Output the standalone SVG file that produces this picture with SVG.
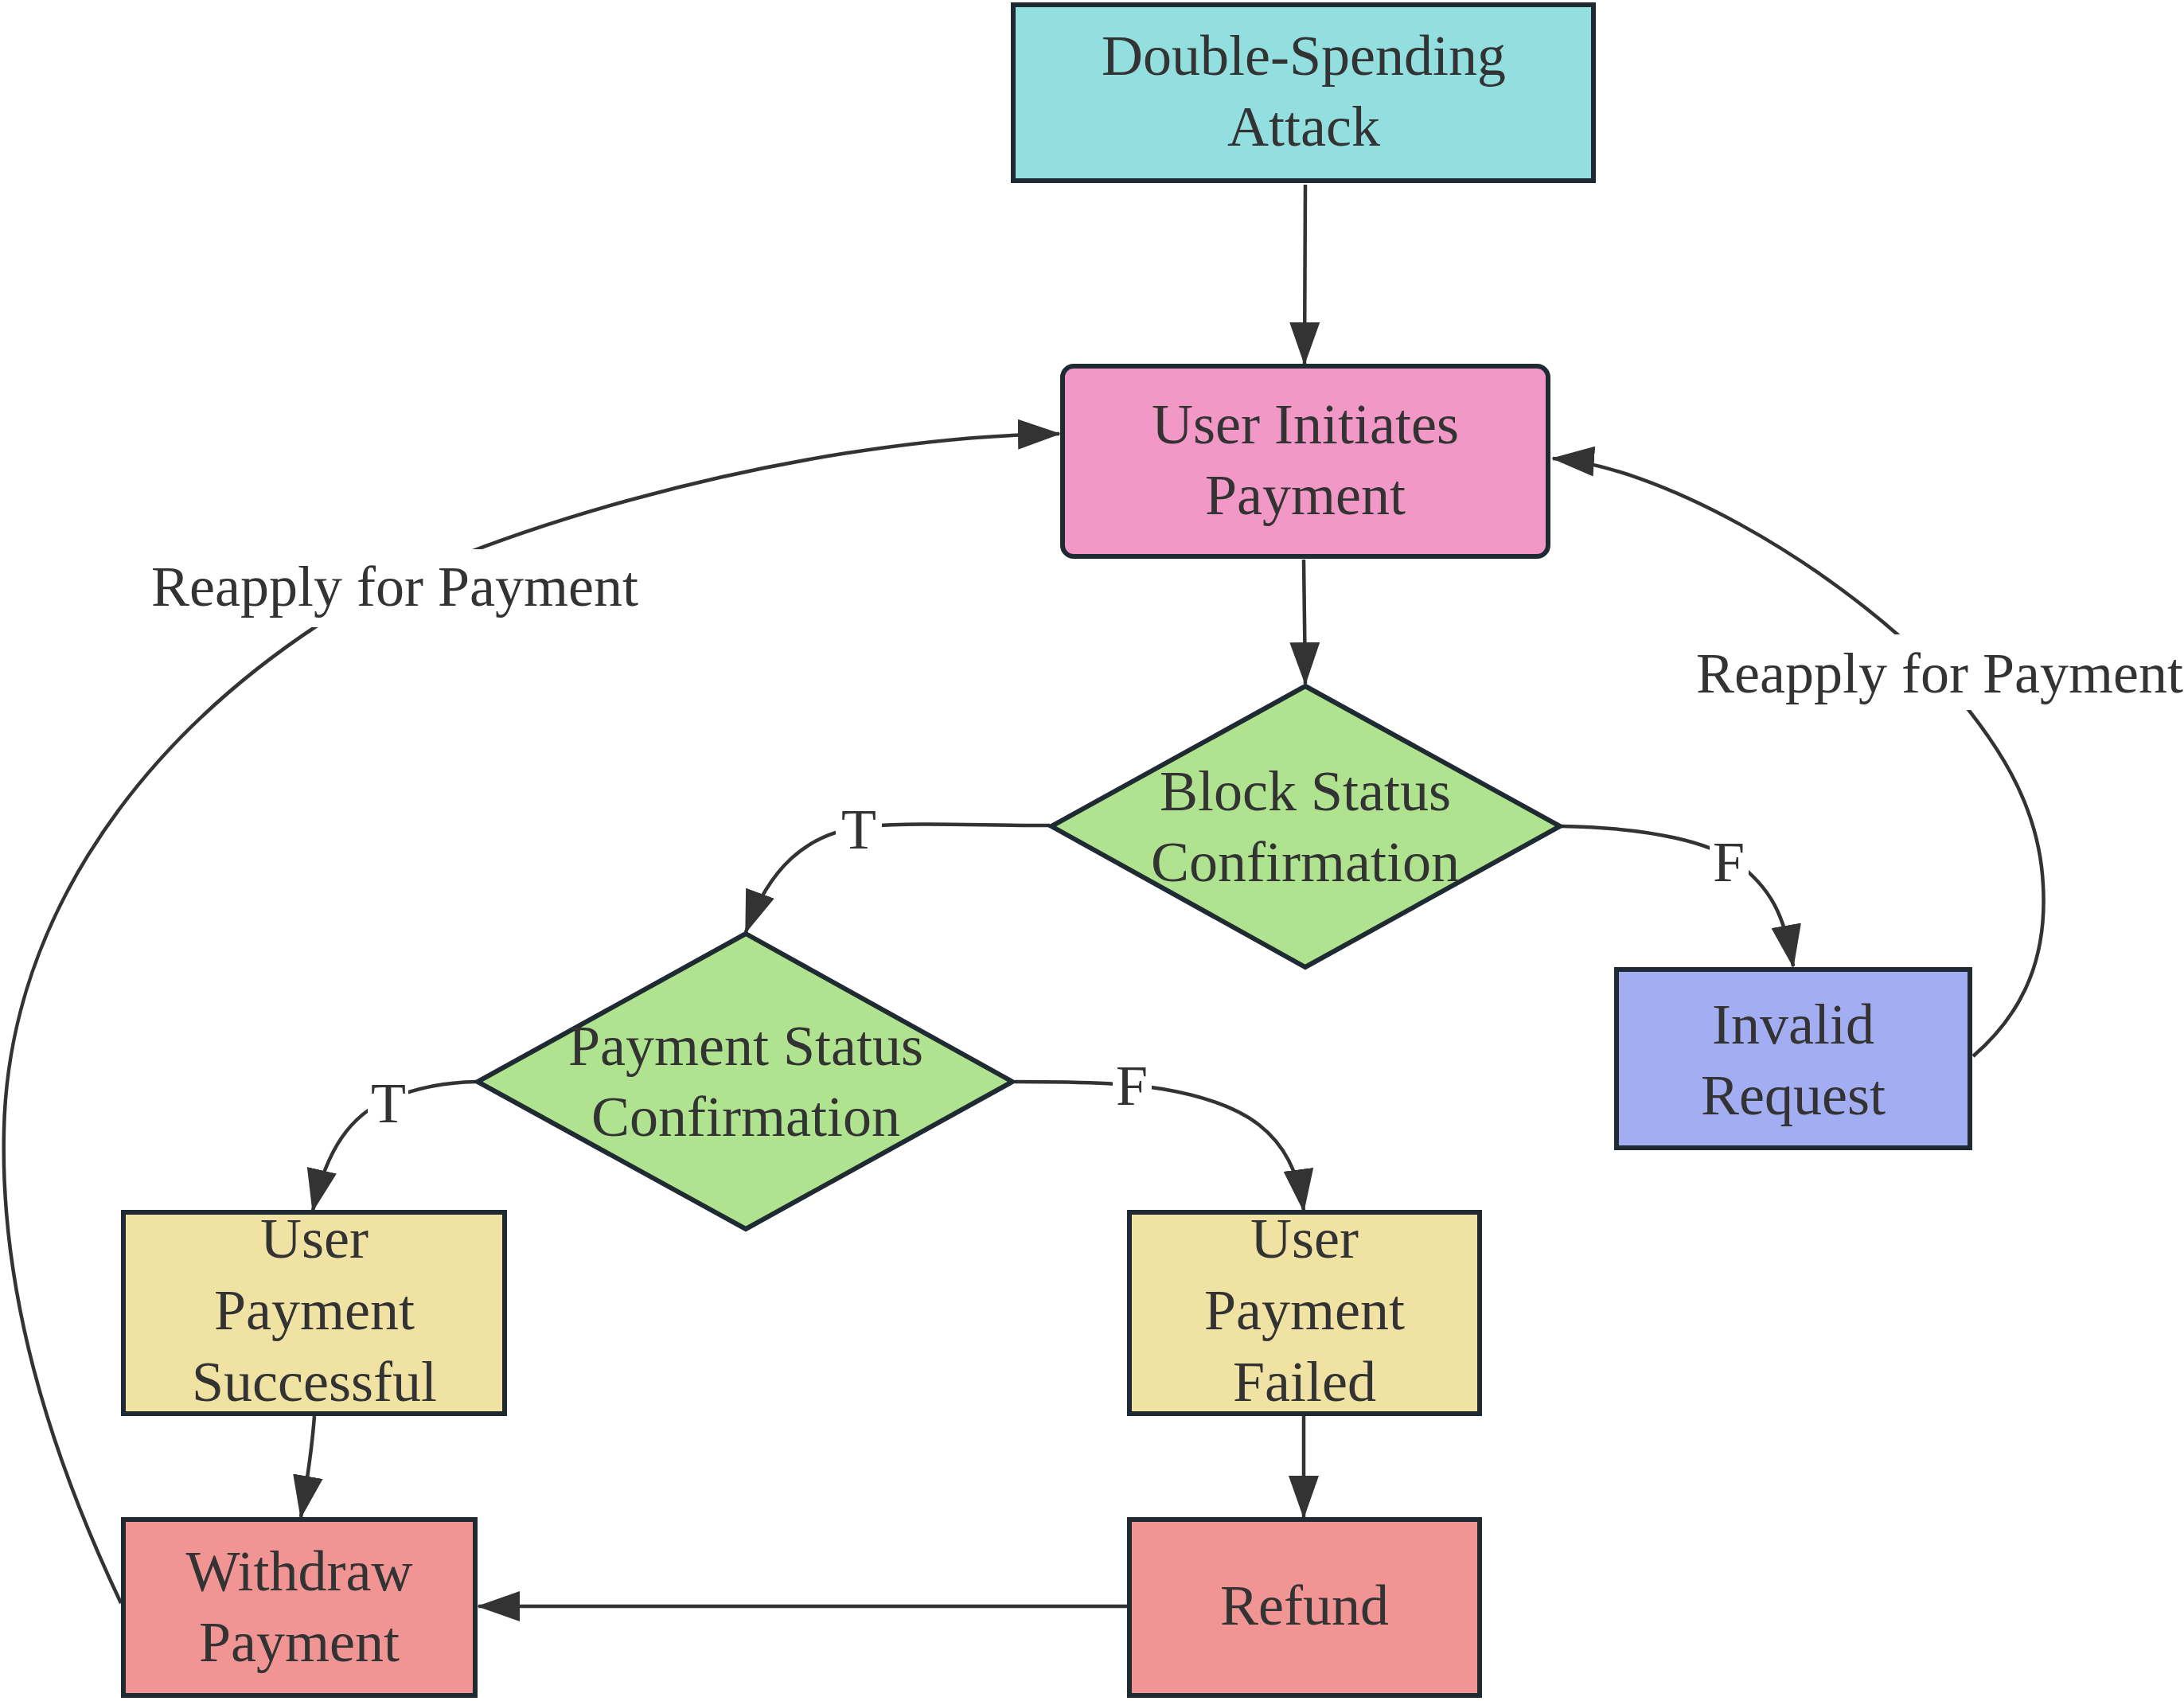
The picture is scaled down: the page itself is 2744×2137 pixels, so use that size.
<svg xmlns="http://www.w3.org/2000/svg" width="2744" height="2137" viewBox="0 0 2744 2137">
<style>
.node rect, .node polygon { stroke: #1f2a33; stroke-width: 6; }
.lbl { font-family: "Liberation Serif", "Times New Roman", serif; font-size: 72px; fill: #333333; text-anchor: middle; }
.edge { fill: none; stroke: #333333; stroke-width: 4.5; marker-end: url(#arrow); }
.lblbg { fill: #ffffff; stroke: none; }
</style>
<defs>
<marker id="arrow" markerUnits="userSpaceOnUse" viewBox="0 0 54 38" markerWidth="54" markerHeight="38" refX="52" refY="19" orient="auto">
<path d="M0,0 L54,19 L0,38 z" fill="#333333"/>
</marker>
</defs>
<rect width="2744" height="2137" fill="#ffffff"/>

<g id="connectors">
<path class="edge" d="M1640,232 L1639,457"/>
<path class="edge" d="M1638,703 L1640,859"/>
<path class="edge" d="M1319,1037 C1230,1037 1150,1033 1090,1038 C1010,1045 965,1095 937,1171"/>
<path class="edge" d="M1962,1038 C2080,1040 2150,1060 2180,1082 C2225,1115 2242,1150 2253,1214"/>
<path class="edge" d="M598,1359 C560,1360 530,1365 490,1380 C440,1400 410,1445 393,1521"/>
<path class="edge" d="M1275,1359 C1380,1359 1420,1362 1460,1368 C1560,1385 1625,1420 1638,1521"/>
<path class="edge" d="M395,1779 C392,1820 386,1860 378,1906"/>
<path class="edge" d="M1638,1779 L1638,1906"/>
<path class="edge" d="M1416,2018 L601,2018"/>
<path class="edge" d="M2479,1327 C2545,1270 2572,1200 2567,1112 C2562,1010 2510,930 2430,840 C2290,700 2080,585 1951,576"/>
<path class="edge" d="M152,2014 C60,1820 0,1620 5,1420 C10,1180 150,950 400,785 C560,680 980,550 1331,545"/>

<rect class="lblbg" x="190" y="690" width="613" height="98"/>
<text class="lbl" x="496" y="761">Reapply for Payment</text>
<rect class="lblbg" x="2131" y="797" width="613" height="95"/>
<text class="lbl" x="2437" y="870">Reapply for Payment</text>
<rect class="lblbg" x="1050" y="994" width="58" height="96"/>
<text class="lbl" x="1079" y="1066">T</text>
<rect class="lblbg" x="2148" y="1035" width="49" height="96"/>
<text class="lbl" x="2172" y="1107">F</text>
<rect class="lblbg" x="462" y="1338" width="51" height="96"/>
<text class="lbl" x="488" y="1410">T</text>
<rect class="lblbg" x="1398" y="1316" width="49" height="96"/>
<text class="lbl" x="1422" y="1388">F</text>
</g>

<g id="double-spending" class="node">
<rect x="1273" y="6" width="729" height="221" fill="#93dfe0"/>
<text class="lbl" x="1638" y="94">Double-Spending</text>
<text class="lbl" x="1638" y="183">Attack</text>
</g>

<g id="user-initiates" class="node">
<rect x="1335" y="460" width="610" height="239" rx="14" ry="14" fill="#f198c7"/>
<text class="lbl" x="1640" y="557">User Initiates</text>
<text class="lbl" x="1640" y="646">Payment</text>
</g>

<g id="block-status" class="node">
<polygon points="1640,862 1960,1038 1640,1215 1321,1038" fill="#afe38f"/>
<text class="lbl" x="1640" y="1018">Block Status</text>
<text class="lbl" x="1640" y="1107">Confirmation</text>
</g>

<g id="payment-status" class="node">
<polygon points="937,1173 1272,1359 937,1544 600,1359" fill="#afe38f"/>
<text class="lbl" x="937" y="1338">Payment Status</text>
<text class="lbl" x="937" y="1427">Confirmation</text>
</g>

<g id="invalid-request" class="node">
<rect x="2031" y="1218" width="444" height="224" fill="#a3adf1"/>
<text class="lbl" x="2253" y="1311">Invalid</text>
<text class="lbl" x="2253" y="1400">Request</text>
</g>

<g id="payment-successful" class="node">
<rect x="155" y="1523" width="479" height="253" fill="#f0e2a2"/>
<text class="lbl" x="395" y="1580">User</text>
<text class="lbl" x="395" y="1670">Payment</text>
<text class="lbl" x="395" y="1760">Successful</text>
</g>

<g id="payment-failed" class="node">
<rect x="1419" y="1523" width="440" height="253" fill="#f0e2a2"/>
<text class="lbl" x="1639" y="1580">User</text>
<text class="lbl" x="1639" y="1670">Payment</text>
<text class="lbl" x="1639" y="1760">Failed</text>
</g>

<g id="withdraw-payment" class="node">
<rect x="155" y="1909" width="442" height="221" fill="#f09494"/>
<text class="lbl" x="376" y="1998">Withdraw</text>
<text class="lbl" x="376" y="2087">Payment</text>
</g>

<g id="refund" class="node">
<rect x="1419" y="1909" width="440" height="221" fill="#f09494"/>
<text class="lbl" x="1639" y="2041">Refund</text>
</g>
</svg>
